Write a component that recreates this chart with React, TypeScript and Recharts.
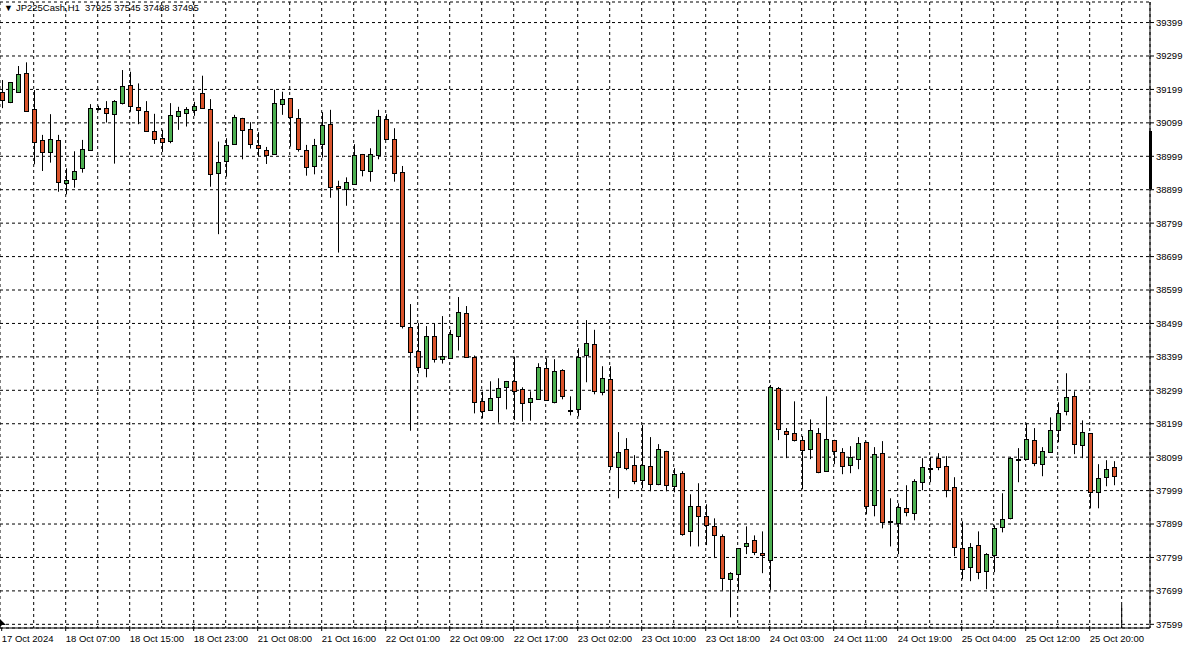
import { Bar, CartesianGrid, ComposedChart, ReferenceLine, XAxis, YAxis } from 'recharts'

// JP225Cash H1, one entry per bar (bar 0 = 17 Oct 23:00)
const opens = [
  39191, 39162, 39190, 39247, 39140, 39047, 39011, 39047, 38918, 38930, 38963, 39017, 39143, 39143, 39125, 39159,
  39212, 39146, 39134, 39074, 39053, 39044, 39119, 39128, 39137, 39187, 39140, 38948, 38985, 39036, 39113, 39080,
  39032, 39017, 39005, 39154, 39172, 39113, 39017, 38969, 39035, 39095, 38909, 38900, 38915, 39005, 38954, 39002,
  39110, 39050, 38951, 38488, 38416, 38365, 38461, 38394, 38395, 38461, 38529, 38398, 38266, 38239, 38278, 38308,
  38326, 38302, 38263, 38272, 38365, 38263, 38359, 38239, 38242, 38405, 38437, 38293, 38332, 38069, 38123, 38075,
  38030, 38072, 38018, 38117, 38012, 38051, 37877, 37952, 37922, 37892, 37862, 37734, 37749, 37832, 37850, 37812,
  37792, 38305, 38176, 38170, 38150, 38123, 38170, 38057, 38150, 38114, 38075, 38093, 38144, 37955, 38111, 37907,
  37901, 37946, 37931, 38024, 38067, 38096, 38072, 38009, 37826, 37770, 37836, 37758, 37806, 37889, 37916, 38095,
  38093, 38150, 38078, 38114, 38180, 38236, 38281, 38135, 38170, 37994, 38039, 38069,
]
const highs = [
  39227, 39221, 39269, 39280, 39197, 39063, 39125, 39063, 38963, 39014, 39048, 39155, 39150, 39164, 39167, 39257,
  39252, 39217, 39164, 39126, 39078, 39158, 39147, 39146, 39162, 39240, 39170, 39043, 39053, 39123, 39114, 39101,
  39071, 39027, 39198, 39192, 39173, 39140, 39033, 39051, 39131, 39138, 38926, 38936, 39035, 39006, 39023, 39138,
  39125, 39083, 38970, 38557, 38500, 38491, 38500, 38521, 38480, 38578, 38551, 38403, 38295, 38326, 38335, 38327,
  38400, 38308, 38296, 38380, 38395, 38392, 38362, 38281, 38425, 38509, 38480, 38371, 38371, 38174, 38156, 38105,
  38195, 38159, 38138, 38118, 38066, 38057, 37988, 38021, 37958, 37916, 37868, 37755, 37827, 37892, 37865, 37877,
  38315, 38309, 38186, 38266, 38162, 38212, 38186, 38281, 38151, 38126, 38132, 38159, 38145, 38129, 38147, 37976,
  37961, 38015, 38033, 38096, 38099, 38111, 38102, 38039, 37907, 37842, 37877, 37812, 37895, 37991, 38099, 38126,
  38200, 38186, 38129, 38218, 38263, 38350, 38296, 38209, 38171, 38078, 38090, 38087,
]
const lows = [
  39143, 39158, 39189, 39133, 38975, 38955, 38980, 38893, 38885, 38905, 38950, 39016, 39136, 39100, 38977, 39154,
  39132, 39095, 39072, 39036, 39012, 39038, 39078, 39088, 39120, 39142, 38908, 38766, 38938, 39035, 38990, 39022,
  39000, 38976, 39004, 39123, 39028, 39013, 38941, 38945, 38995, 38875, 38711, 38851, 38914, 38939, 38923, 38990,
  39049, 38923, 38484, 38178, 38350, 38338, 38382, 38379, 38394, 38418, 38398, 38230, 38215, 38238, 38202, 38242,
  38210, 38205, 38208, 38271, 38268, 38260, 38272, 38224, 38221, 38323, 38287, 38284, 38060, 37976, 38060, 38018,
  38006, 37997, 38015, 37997, 37994, 37864, 37832, 37832, 37836, 37797, 37700, 37620, 37700, 37809, 37806, 37752,
  37702, 38150, 38096, 38146, 38003, 38093, 38051, 38056, 38078, 38048, 38051, 38063, 37928, 37922, 37886, 37832,
  37809, 37922, 37910, 38000, 38024, 38060, 37979, 37803, 37734, 37728, 37734, 37704, 37755, 37874, 37913, 38024,
  38092, 38072, 38042, 38113, 38144, 38224, 38108, 38096, 37946, 37946, 38012, 38015,
]
const closes = [
  39167, 39220, 39244, 39134, 39043, 39013, 39050, 38921, 38927, 38954, 39020, 39143, 39143, 39128, 39163, 39208,
  39149, 39137, 39075, 39050, 39041, 39122, 39134, 39140, 39149, 39143, 38945, 38981, 39032, 39116, 39077, 39036,
  39023, 39002, 39157, 39169, 39116, 39020, 38966, 39032, 39092, 38906, 38903, 38921, 39002, 38957, 39005, 39119,
  39050, 38948, 38491, 38415, 38368, 38461, 38392, 38401, 38467, 38532, 38400, 38263, 38236, 38275, 38305, 38326,
  38296, 38260, 38275, 38368, 38269, 38356, 38281, 38237, 38398, 38440, 38296, 38335, 38072, 38114, 38066, 38027,
  38075, 38018, 38123, 38015, 38048, 37868, 37952, 37922, 37895, 37865, 37737, 37752, 37826, 37841, 37815, 37806,
  38308, 38182, 38168, 38150, 38120, 38180, 38054, 38153, 38117, 38072, 38099, 38141, 37952, 38108, 37904, 37905,
  37949, 37934, 38027, 38069, 38067, 38069, 38000, 37830, 37764, 37830, 37755, 37809, 37886, 37913, 38096, 38095,
  38153, 38081, 38117, 38180, 38231, 38278, 38138, 38174, 37994, 38036, 38063, 38042,
]

const timeTickBars = [0, 8, 16, 24, 32, 40, 48, 56, 64, 72, 80, 88, 96, 104, 112, 120, 128, 136]
const timeTickLabels = [
  '17 Oct 2024', '18 Oct 07:00', '18 Oct 15:00', '18 Oct 23:00', '21 Oct 08:00', '21 Oct 16:00',
  '22 Oct 01:00', '22 Oct 09:00', '22 Oct 17:00', '23 Oct 02:00', '23 Oct 10:00', '23 Oct 18:00',
  '24 Oct 03:00', '24 Oct 11:00', '24 Oct 19:00', '25 Oct 04:00', '25 Oct 12:00', '25 Oct 20:00',
]
const gridBars = [4, 8, 12, 16, 20, 24, 28, 32, 36, 40, 44, 48, 52, 56, 60, 64, 68, 72, 76, 80, 84, 88, 92, 96, 100, 104, 108, 112, 116, 120, 124, 128, 132, 136, 140]
const priceTicks = [
  37599, 37699, 37799, 37899, 37999, 38099, 38199, 38299, 38399, 38499, 38599, 38699, 38799, 38899, 38999, 39099,
  39199, 39299, 39399,
]

const UP = '#4caf50'
const DOWN = '#d9532b'
const FONT = '"Liberation Sans", Arial, sans-serif'
const X_DOMAIN = [-0.2125, 143.54]

const data = opens.map((open, i) => ({ i, open, high: highs[i], low: lows[i], close: closes[i] }))

function Candle(props: any) {
  const { x, y, width, height, payload } = props
  const { open, close, high, low } = payload
  const top = Math.min(y, y + height)
  const h = Math.abs(height)
  const span = high - low || 1
  const py = (v: number) => top + ((high - v) / span) * h
  const c = Math.round(x + width / 2)
  const bodyTop = Math.round(py(Math.max(open, close))) + 0.5
  const bodyBot = Math.round(py(Math.min(open, close))) + 0.5
  return (
    <g>
      <line x1={c + 0.5} x2={c + 0.5} y1={top} y2={top + h} stroke="#000" strokeWidth={1} />
      <rect
        x={c - 1.5}
        y={bodyTop}
        width={4}
        height={Math.max(bodyBot - bodyTop, 1)}
        fill={close >= open ? UP : DOWN}
        stroke="#000"
        strokeWidth={1}
      />
    </g>
  )
}

function TimeTick(props: any) {
  const { x, y, payload } = props
  const idx = timeTickBars.indexOf(payload.value)
  return (
    <text x={x} y={y + 9} textAnchor="start" fontSize={9.5} fontFamily={FONT} fill="#000">
      {timeTickLabels[idx]}
    </text>
  )
}

export default function App() {
  return (
    <div style={{ position: 'relative', width: 1189, height: 645, background: '#fff' }}>
      <style>{'body{margin:0}'}</style>
      <ComposedChart width={1189} height={645} data={data} margin={{ top: 2, right: 0, bottom: 0, left: 0 }}>
        <CartesianGrid xAxisId="grid" stroke="#000" strokeDasharray="3 3" />
        <ReferenceLine
          segment={[
            { x: 140, y: 37588 },
            { x: 140, y: 37657 },
          ]}
          stroke="#000"
        />
        <XAxis
          type="number"
          dataKey="i"
          domain={X_DOMAIN}
          allowDataOverflow
          ticks={timeTickBars}
          interval={0}
          height={17}
          stroke="#000"
          tickSize={3}
          tick={<TimeTick />}
        />
        <XAxis
          xAxisId="grid"
          type="number"
          dataKey="i"
          domain={X_DOMAIN}
          allowDataOverflow
          ticks={gridBars}
          interval={0}
          hide
        />
        <YAxis
          orientation="right"
          domain={[37588, 39460.5]}
          allowDataOverflow
          ticks={priceTicks}
          interval={0}
          width={39}
          stroke="#000"
          tickSize={4}
          tickMargin={2}
          tick={{ fontSize: 9.5, fontFamily: FONT, fill: '#000' }}
        />
        <Bar
          dataKey={(d: any) => [d.low, d.high]}
          barSize={6}
          shape={<Candle />}
          isAnimationActive={false}
        />
      </ComposedChart>
      <div
        style={{
          position: 'absolute',
          left: 4,
          top: 2,
          fontSize: 9.5,
          fontFamily: FONT,
          color: '#000',
          whiteSpace: 'pre',
          lineHeight: '12px',
        }}
      >
        <span style={{ fontSize: 9, marginRight: 3 }}>▼</span>JP225Cash,H1  37925 37545 37488 37495
      </div>
      <div style={{ position: 'absolute', left: 1149, top: 131, width: 3, height: 58, background: '#000' }} />
      <svg style={{ position: 'absolute', left: 0, top: 619 }} width={8} height={9}>
        <polygon points="0,0 6,6 2,6 0,8" fill="#000" />
      </svg>
    </div>
  )
}
